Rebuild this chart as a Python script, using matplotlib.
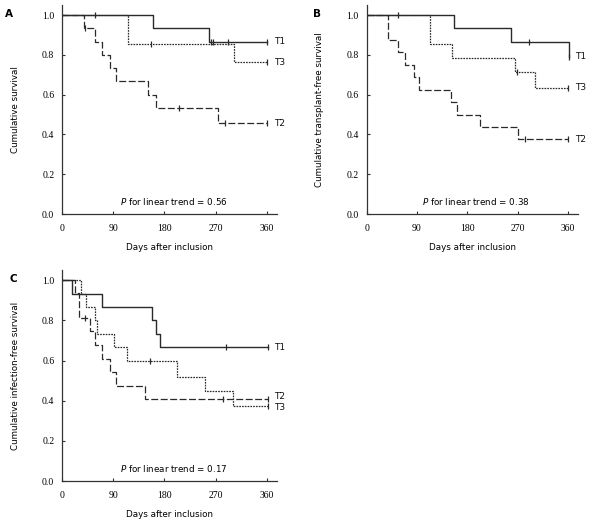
import matplotlib
matplotlib.use('Agg')
import matplotlib.pyplot as plt

plt.rcParams['lines.scale_dashes'] = False

# panel A: cumulative survival
a_t1_t = [0, 160, 259, 360]
a_t1_s = [1.0, 0.933, 0.867, 0.867]
a_t1_c = [58, 262, 266, 292, 360]
a_t2_t = [0, 39, 58, 71, 85, 95, 152, 166, 274, 360]
a_t2_s = [1.0, 0.933, 0.867, 0.80, 0.733, 0.667, 0.60, 0.533, 0.457, 0.457]
a_t2_c = [41, 205, 286, 360]
a_t3_t = [0, 116, 302, 360]
a_t3_s = [1.0, 0.857, 0.762, 0.762]
a_t3_c = [156, 360]

# panel B: transplant-free survival
b_t1_t = [0, 157, 257, 361]
b_t1_s = [1.0, 0.933, 0.867, 0.79]
b_t1_c = [57, 290, 361]
b_t2_t = [0, 39, 57, 68, 84, 93, 150, 162, 202, 271, 360]
b_t2_s = [1.0, 0.875, 0.8125, 0.75, 0.6875, 0.625, 0.5625, 0.5, 0.4375, 0.375, 0.375]
b_t2_c = [283, 360]
b_t3_t = [0, 113, 153, 265, 301, 360]
b_t3_s = [1.0, 0.857, 0.786, 0.714, 0.635, 0.635]
b_t3_c = [268, 360]

# panel C: infection-free survival
c_t1_t = [0, 17, 70, 158, 166, 172, 363]
c_t1_s = [1.0, 0.933, 0.867, 0.80, 0.733, 0.667, 0.667]
c_t1_c = [289, 363]
c_t2_t = [0, 22, 30, 49, 58, 70, 85, 95, 146, 363]
c_t2_s = [1.0, 0.938, 0.8125, 0.745, 0.677, 0.609, 0.542, 0.474, 0.406, 0.406]
c_t2_c = [40, 283, 363]
c_t3_t = [0, 33, 42, 58, 61, 91, 115, 202, 251, 300, 362]
c_t3_s = [1.0, 0.933, 0.867, 0.80, 0.733, 0.667, 0.60, 0.52, 0.45, 0.375, 0.375]
c_t3_c = [154, 362]

xticks = [0, 90, 180, 270, 360]
yticks = [0.0, 0.2, 0.4, 0.6, 0.8, 1.0]

col = '#2a2a2a'
styles = {'T1': (None, 1.0),
          'T2': ((0, (5.0, 1.8)), 0.9),
          'T3': ((0, (1.2, 0.8)), 0.9)}


def surv_at(t, s, x):
    v = s[0]
    for ti, si in zip(t, s):
        if ti <= x:
            v = si
    return v


def draw_curve(ax, t, s, cens, name, label_y):
    ls, lw = styles[name]
    line, = ax.step(t, s, where='post', color=col, lw=lw)
    if ls is not None:
        line.set_linestyle(ls)
    cy = [surv_at(t, s, c) for c in cens]
    ax.plot(cens, cy, ls='none', marker='|', ms=4.5, mew=0.9, color=col)
    ax.text(372, label_y, name, fontsize=6.5, va='center', ha='left',
            family='DejaVu Sans', color='#111')


def setup(ax, ylabel, ptxt):
    ax.set_xlim(0, 378)
    ax.set_ylim(0, 1.05)
    ax.spines['top'].set_visible(False)
    ax.spines['right'].set_visible(False)
    for s in ['left', 'bottom']:
        ax.spines[s].set_color('#333')
        ax.spines[s].set_linewidth(0.9)
    ax.set_xticks(xticks)
    ax.set_yticks(yticks)
    ax.set_yticklabels(['%.1f' % v for v in yticks])
    ax.tick_params(direction='in', length=2.5, width=0.8, color='#333',
                   labelsize=7)
    ax.tick_params(axis='x', pad=7.5)
    ax.tick_params(axis='y', pad=5.5)
    for lab in ax.get_xticklabels() + ax.get_yticklabels():
        lab.set_family('Liberation Serif')
    ax.set_xlabel('Days after inclusion', fontsize=6.3, labelpad=7)
    ax.set_ylabel(ylabel, fontsize=6.3, labelpad=16)
    ax.text(196, 0.063, r'$\it{P}$ for linear trend = ' + ptxt, fontsize=6.3,
            ha='center', va='center')


fig = plt.figure(figsize=(5.98, 5.22), dpi=100)

axA = fig.add_axes([0.1037, 0.590, 0.3595, 0.400])
draw_curve(axA, a_t1_t, a_t1_s, a_t1_c, 'T1', 0.867)
draw_curve(axA, a_t3_t, a_t3_s, a_t3_c, 'T3', 0.762)
draw_curve(axA, a_t2_t, a_t2_s, a_t2_c, 'T2', 0.457)
setup(axA, 'Cumulative survival', '0.56')

axB = fig.add_axes([0.613, 0.590, 0.354, 0.400])
draw_curve(axB, b_t1_t, b_t1_s, b_t1_c, 'T1', 0.79)
draw_curve(axB, b_t3_t, b_t3_s, b_t3_c, 'T3', 0.635)
draw_curve(axB, b_t2_t, b_t2_s, b_t2_c, 'T2', 0.375)
setup(axB, 'Cumulative transplant-free survival', '0.38')

axC = fig.add_axes([0.1037, 0.0785, 0.3595, 0.404])
draw_curve(axC, c_t1_t, c_t1_s, c_t1_c, 'T1', 0.667)
draw_curve(axC, c_t2_t, c_t2_s, c_t2_c, 'T2', 0.421)
draw_curve(axC, c_t3_t, c_t3_s, c_t3_c, 'T3', 0.366)
setup(axC, 'Cumulative infection-free survival', '0.17')

fig.text(5 / 598, 1 - 14 / 522, 'A', fontsize=7.5, fontweight='bold', va='center')
fig.text(313 / 598, 1 - 14 / 522, 'B', fontsize=7.5, fontweight='bold', va='center')
fig.text(9 / 598, 1 - 279 / 522, 'C', fontsize=7.5, fontweight='bold', va='center')

fig.savefig('out.png', dpi=100)
